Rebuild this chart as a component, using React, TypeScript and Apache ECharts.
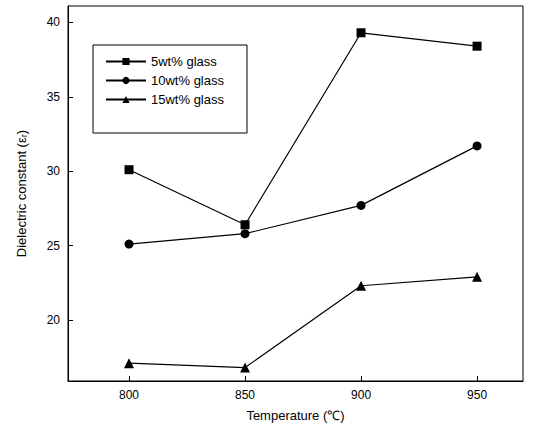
import React, { useEffect, useRef } from 'react';
import * as echarts from 'echarts';

const temperatures = [800, 850, 900, 950];
const glass5 = [30.1, 26.4, 39.3, 38.4];
const glass10 = [25.1, 25.8, 27.7, 31.7];
const glass15 = [17.1, 16.8, 22.3, 22.9];
const seriesNames = ['5wt% glass', '10wt% glass', '15wt% glass'];
const yTicks = [20, 25, 30, 35, 40];

const App: React.FC = () => {
    const ref = useRef<HTMLDivElement>(null);

    useEffect(() => {
        if (!ref.current) return;
        const chart = echarts.init(ref.current, undefined, { renderer: 'svg' });
        const mk = (name: string, vals: number[], symbol: string, size: number) => ({
            name,
            type: 'line',
            data: temperatures.map((t, i) => [t, vals[i]]),
            symbol,
            symbolSize: size,
            lineStyle: { color: '#000', width: 1.2 },
            itemStyle: { color: '#000' },
        });
        chart.setOption({
            animation: false,
            textStyle: { fontFamily: 'Liberation Sans, Arial' },
            grid: { left: 68, right: 17, top: 6, bottom: 53, show: true, borderColor: '#000', borderWidth: 1 },
            legend: {
                orient: 'vertical',
                left: 100,
                top: 50,
                itemGap: 6,
                itemWidth: 40,
                itemHeight: 9,
                textStyle: { color: '#000', fontSize: 13 },
                data: seriesNames,
            },
            graphic: [
                {
                    type: 'rect',
                    shape: { x: 93, y: 45, width: 154, height: 88 },
                    style: { fill: 'none', stroke: '#000', lineWidth: 1 },
                    z: 10,
                },
            ],
            xAxis: {
                type: 'value',
                min: 773.7,
                max: 969.8,
                name: 'Temperature (℃)',
                nameLocation: 'middle',
                nameGap: 28,
                nameTextStyle: { color: '#000', fontSize: 13 },
                axisLine: { lineStyle: { color: '#000' } },
                axisTick: { inside: true, customValues: temperatures, lineStyle: { color: '#000' } },
                axisLabel: { color: '#000', fontSize: 12, customValues: temperatures },
                splitLine: { show: false },
            },
            yAxis: {
                type: 'value',
                min: 15.9,
                max: 41.1,
                name: 'Dielectric constant (ε\u1d63)',
                nameLocation: 'middle',
                nameGap: 40,
                nameTextStyle: { color: '#000', fontSize: 13 },
                axisLine: { show: true, lineStyle: { color: '#000' } },
                axisTick: { show: true, inside: true, customValues: yTicks, lineStyle: { color: '#000' } },
                axisLabel: { color: '#000', fontSize: 12, customValues: yTicks },
                splitLine: { show: false },
            },
            series: [
                mk(seriesNames[0], glass5, 'rect', 9),
                mk(seriesNames[1], glass10, 'circle', 9),
                mk(seriesNames[2], glass15, 'triangle', 10),
            ],
        });
        return () => chart.dispose();
    }, []);

    return (
        <div
            ref={ref}
            style={{ position: 'absolute', left: 0, top: 0, width: 540, height: 434, background: '#fff' }}
        />
    );
};

export default App;
